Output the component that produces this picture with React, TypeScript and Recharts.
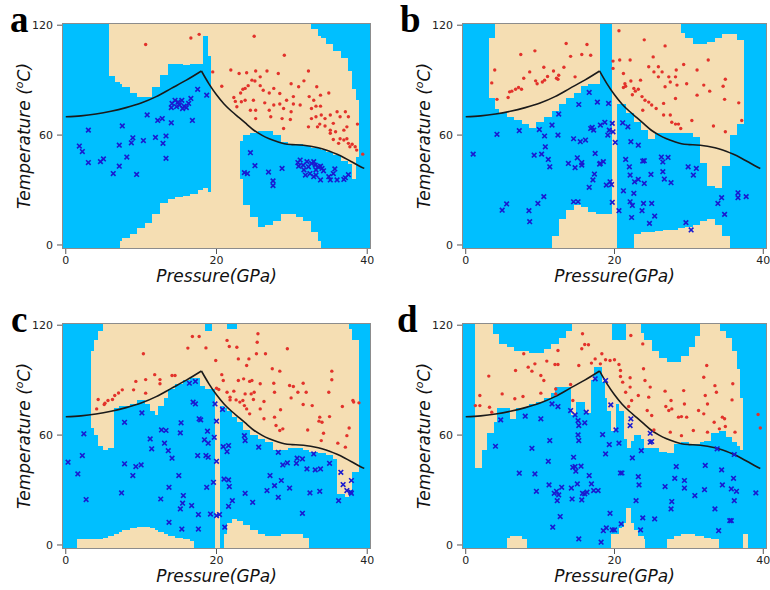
import React from "react";
import { ComposedChart, Area, Line, Scatter, XAxis, YAxis, CartesianGrid } from "recharts";

type Pt = [number, number];
type Band = [number, number];
type MapRow = [number, Band[]];

const X_TICKS = [0, 20, 40];
const Y_TICKS = [0, 60, 120];
const X_DOMAIN: [number, number] = [-0.5, 40.5];
const Y_DOMAIN: [number, number] = [-2.2, 121.2];

const BLUE = "#00BFFF";
const TAN = "#F5DEB3";
const RED = "#e2322b";
const NAVY = "#1a1ad0";
const SANS = "'DejaVu Sans', sans-serif";

// boundary curve, same in all four panels
const CURVE_RISE: Pt[] = [[0, 70], [2, 70.5], [4, 71.5], [6, 73], [8, 75], [10, 77.5], [12, 81], [14, 85.5], [16, 90], [18, 95]];
const CURVE_FALL: Pt[] = [[18, 95], [19, 88], [20, 82], [21, 77], [22, 73], [23, 69.5], [24, 66], [25, 62.5], [26, 60], [27, 58], [28, 56.5], [29, 55.3], [30, 54.8], [31, 54.6], [32, 54.2], [33, 53.5], [34, 52.5], [35, 51.2], [36, 49.5], [37, 47.5], [38, 45.3], [39, 43], [39.6, 41.8]];

// decision maps: [pressure where the column starts, tan temperature bands]
const MAP_A: MapRow[] = [
  [-0.5, []], [5.8, [[92, 120]]], [6.5, [[89, 120]]], [7.2, [[88, 120], [0, 2]]], [7.5, [[86, 120], [0, 4]]],
  [8.5, [[83, 120], [0, 6]]], [9.5, [[81, 120], [0, 9]]], [10.5, [[81, 120], [0, 12]]], [11.5, [[86, 120], [0, 17]]],
  [12.5, [[93, 120], [0, 23]]], [13.5, [[99, 120], [0, 25]]], [14.5, [[99, 120], [0, 26]]], [15.5, [[98, 120], [0, 27]]],
  [16.5, [[99, 120], [0, 28]]], [17.5, [[99, 120], [0, 30]]], [18.2, [[114, 120], [0, 31]]], [18.9, [[103, 120], [0, 29]]],
  [19.3, [[0, 120]]], [23.1, [[57, 120], [0, 36]]], [23.5, [[60, 120], [0, 22]]], [24.5, [[61, 120], [0, 15]]],
  [25.5, [[62, 120], [0, 10]]], [26.5, [[62, 120], [0, 11]]], [27.5, [[60, 120], [0, 13]]], [28.5, [[56, 120], [0, 17]]],
  [29.5, [[55, 120], [0, 17]]], [30.5, [[55, 120], [0, 15]]], [31.5, [[54, 120], [0, 13]]], [32.5, [[53, 118], [0, 7]]],
  [33.5, [[53, 114], [0, 2]]], [33.8, [[52, 113]]], [34.5, [[51, 110]]], [35.5, [[49, 106]]], [36.5, [[46, 102]]],
  [37.5, [[44, 95]]], [38.0, [[36, 85]]], [38.5, [[48, 79]]], [38.85, []],
];

const MAP_B: MapRow[] = [
  [-0.5, []], [3.1, [[80, 113]]], [4.0, [[74, 120]]], [4.5, [[72, 120]]], [5.5, [[70, 120]]], [6.5, [[68, 120]]],
  [7.5, [[66, 120]]], [8.5, [[64, 120]]], [9.5, [[67, 120]]], [10.5, [[70, 120]]], [11.6, [[73, 120], [0, 5]]],
  [12.5, [[77, 120], [0, 14]]], [13.5, [[80, 120], [0, 19]]], [14.5, [[83, 120], [0, 22]]], [15.5, [[87, 120], [0, 21]]],
  [16.5, [[88, 120], [0, 18]]], [17.5, [[88, 120], [0, 17]]], [18.1, [[0, 17]]], [19.6, [[0, 120]]], [20.4, [[77, 120]]],
  [21.5, [[72, 120]]], [22.6, [[67, 120], [0, 6]]], [23.5, [[63, 120], [0, 7]]], [24.5, [[58, 120], [0, 7]]],
  [25.5, [[61, 120], [0, 7.5]]], [26.5, [[61, 120], [0, 8]]], [27.5, [[61, 120], [0, 8]]], [28.5, [[61, 120], [0, 9]]],
  [29.0, [[61, 116], [0, 9]]], [29.5, [[61, 113], [0, 10]]], [30.5, [[59, 110], [0, 11]]], [31.5, [[45, 110], [0, 13]]],
  [32.5, [[32, 111], [0, 14]]], [33.5, [[31, 113], [0, 11]]], [34.5, [[43, 115], [0, 5]]], [35.5, [[60, 115]]],
  [36.5, [[66, 112]]], [37.4, []],
];

const MAP_C: MapRow[] = [
  [-0.5, []], [1.5, [[0, 3]]], [3.3, [[64, 106], [0, 3]]], [3.7, [[60, 112], [0, 3]]], [4.3, [[54, 117], [0, 3]]],
  [5.0, [[52, 120], [0, 4]]], [5.6, [[53, 120], [0, 5]]], [6.4, [[75, 120], [0, 6]]], [7.0, [[76, 120], [0, 7]]],
  [7.5, [[76, 120], [0, 8]]], [8.5, [[77, 120], [0, 9.5]]], [9.5, [[79, 120], [0, 10]]], [10.5, [[77, 120], [0, 10]]],
  [11.2, [[73, 120], [0, 9]]], [11.8, [[71, 120], [0, 8]]], [12.3, [[76, 120], [0, 7]]], [13.0, [[80, 120], [0, 6]]],
  [13.6, [[85, 120], [0, 5]]], [14.5, [[88, 120], [0, 4]]], [15.5, [[90, 120], [0, 3]]], [16.5, [[91, 120], [0, 2]]],
  [17.0, [[91, 120]]], [17.8, [[87, 120]]], [18.5, [[85, 117]]], [19.4, [[85, 120]]], [19.8, [[0, 120]]],
  [20.5, [[76, 120]]], [21.0, [[75, 120], [0, 6]]], [21.4, [[73, 118], [0, 12]]], [22.0, [[70, 118], [0, 14]]],
  [22.7, [[67, 120], [0, 13]]], [23.5, [[63, 120], [0, 11]]], [24.5, [[60, 120], [0, 8]]], [25.5, [[58, 120], [0, 6]]],
  [26.5, [[56, 120], [0, 5]]], [27.5, [[52, 120], [0, 5]]], [28.5, [[52, 120], [0, 6]]], [29.5, [[53, 120], [0, 6]]],
  [30.5, [[53, 120], [0, 6]]], [31.5, [[52, 120], [0, 4]]], [32.3, [[51, 120]]], [33.5, [[50, 120]]], [34.5, [[49, 120]]],
  [35.5, [[47, 120]]], [36.0, [[28, 120]]], [37.0, [[26, 120]]], [37.6, [[30, 118]]], [38.0, [[40, 112]]], [38.9, []],
];

const MAP_D: MapRow[] = [
  [-0.5, []], [1.3, [[42, 120]]], [2.2, [[52, 120]]], [2.9, [[61, 120]]], [3.6, [[61, 115]]], [3.8, [[67, 115]]],
  [4.2, [[75, 115]]], [4.5, [[75, 110]]], [5.5, [[75, 108], [0, 4]]], [6.0, [[69, 108], [0, 5]]], [6.5, [[69, 106], [0, 5]]],
  [6.7, [[75, 106], [0, 5]]], [7.6, [[75, 106], [0, 3]]], [8.2, [[76, 106]]], [8.5, [[77, 105]]], [9.5, [[78, 105]]],
  [10.5, [[80, 107]]], [11.5, [[83, 110]]], [12.0, [[86, 110]]], [12.5, [[86, 113]]], [13.5, [[86, 117]]],
  [14.1, [[71, 117]]], [14.3, [[71, 120]]], [14.8, [[78, 120]]], [16.1, [[72, 120]]], [16.8, [[90, 120]]],
  [17.2, [[97, 120]]], [18.3, [[89, 120]]], [18.7, [[80, 120]]], [19.0, [[73, 120]]], [19.5, [[62, 120], [0, 6]]],
  [19.7, [[62, 112], [0, 6]]], [20.2, [[77, 112], [0, 6]]], [20.6, [[73, 112], [0, 9]]], [21.0, [[73, 112], [0, 10]]],
  [21.3, [[58, 112], [0, 12]]], [21.5, [[58, 120], [0, 20]]], [21.7, [[53, 120], [0, 20]]], [22.2, [[57, 120], [0, 12]]],
  [22.6, [[60, 120], [0, 8]]], [23.2, [[60, 120], [0, 5]]], [23.5, [[58, 116], [0, 5]]], [24.0, [[53, 112], [0, 3]]],
  [24.1, [[53, 112]]], [25.0, [[53, 106]]], [26.0, [[51, 102]]], [27.0, [[50, 100], [0, 3]]], [28.0, [[55, 100], [0, 5]]],
  [29.0, [[56, 103], [0, 6]]], [30.0, [[55, 108], [0, 6]]], [30.8, [[55, 114], [0, 5]]], [31.5, [[56, 120], [0, 5]]],
  [32.0, [[57, 120], [0, 4]]], [33.0, [[61, 120], [0, 3]]], [34.0, [[62, 120]]], [34.2, [[62, 117]]], [35.0, [[59, 113]]],
  [35.8, [[56, 106]]], [36.4, [[54, 96]]], [36.9, [[52, 80]]], [37.3, [[0, 6]]], [38.0, []],
];

// training points [pressure, temperature]
const RED_A: Pt[] = [[10.6, 109.5], [16.6, 113], [17.7, 115], [25, 114], [29, 103.6], [19.5, 94.5], [21.9, 95.5], [20.7, 86.7], [23, 93.6], [24, 94], [25.2, 95], [26.7, 95], [28.2, 93.6], [29.9, 88], [31.6, 89.6], [32.2, 95], [22.3, 80.5], [22.5, 78.4], [23.2, 83], [23.5, 85], [23.8, 85.5], [24.2, 87], [24.7, 90], [25.1, 89.5], [25.8, 87], [26.2, 84.5], [27, 83], [27.6, 85.5], [28.4, 77], [28.9, 74.5], [29.3, 79], [30.2, 77], [29.9, 72.7], [22.7, 75.5], [23.8, 79], [24.9, 79], [25.2, 73.6], [26.4, 77.6], [27.6, 76.4], [25.2, 69], [27.2, 70], [28.7, 69], [28.9, 63.6], [29.8, 68.5], [31.1, 76.4], [32.3, 81], [33.8, 81.8], [34.9, 83], [32.6, 74.5], [33.2, 75.8], [33.8, 75.8], [32.6, 69], [33.2, 70], [33.9, 71], [32.2, 64.5], [33.4, 64.5], [33.7, 66], [34.4, 69], [35.1, 71], [36, 72.7], [37.1, 72.7], [37.5, 70], [36.4, 70], [35.5, 66.4], [34.4, 65], [35.1, 62.7], [35.1, 61], [35.5, 57.6], [36.4, 58], [36.9, 57.3], [37.3, 58], [37.5, 55.5], [38, 55], [38.4, 53.6], [38.6, 51.8], [38.7, 66], [39.4, 49.6], [36.9, 62.7], [37.3, 64.5], [24.5, 73.6], [23.3, 78.2], [27, 73.6], [28.4, 82.7], [30.9, 86.4], [30.2, 81], [33.3, 86.4], [25.8, 91.8], [32.9, 79], [35.8, 61.8], [36.2, 55.5], [37.7, 53.6]];
const BLUE_A: Pt[] = [[1.8, 54], [2.2, 51], [3, 62.7], [3, 45], [4.6, 45.5], [5, 47], [6.3, 39], [7.1, 43], [7.1, 54.5], [7.5, 65], [8.1, 48], [8.7, 55.8], [8.9, 58.5], [9.4, 38.5], [10.3, 57], [10.8, 71], [11.9, 58.7], [12.2, 68], [12.8, 69], [12.9, 55.5], [13.3, 59.5], [13.3, 47.3], [14, 66.7], [14, 75], [14.1, 77.3], [14.5, 79], [14.9, 78], [15.4, 79], [15.1, 76.4], [14.7, 75.5], [15.7, 75.8], [16, 75], [16.3, 77.3], [16.6, 80], [15.5, 74.5], [16.8, 68], [17.5, 85], [18.7, 81.8], [24.5, 50.4], [25.1, 43.3], [23.7, 39.5], [24.1, 39], [26.9, 39.8], [27.5, 35], [27.5, 32.4], [28.7, 41.8], [30.8, 45], [31.1, 46.4], [31.5, 43.6], [31.6, 41], [32, 45.5], [32.2, 42.7], [32.4, 39], [32.6, 44.5], [32.9, 45.5], [33.1, 43.6], [33.2, 41], [33.5, 42.7], [32.9, 37.3], [33.8, 35.5], [34, 41.8], [34.2, 40.5], [34.9, 37.3], [35.1, 35.5], [35.5, 39], [35.7, 41.5], [36, 35.5], [36.9, 35.8], [37.1, 36.7], [37.5, 38.4], [31.8, 38.2], [30.9, 43], [33.2, 38.2], [33.8, 43]];

const RED_B: Pt[] = [[3.5, 88.5], [3.9, 95.5], [4.2, 79.5], [5.7, 80.5], [5.9, 83.6], [6.2, 84], [6.7, 85], [7.1, 86], [7.5, 85], [7.4, 104], [7.8, 91], [8.6, 94.5], [9.3, 106], [9.4, 89.6], [9.6, 88], [10.3, 89], [10.5, 97], [10.6, 90], [11, 92], [11.8, 95], [12.2, 91], [12.4, 90.5], [12.5, 92.7], [13.2, 97], [13.5, 110], [14.1, 103], [14.7, 91.8], [15.6, 104], [16.3, 109.5], [16.8, 103.6], [20.6, 117], [19.8, 100.4], [20.7, 101], [22.1, 101], [19.8, 96.4], [21.2, 93.6], [21.4, 88], [21.5, 86.7], [21.2, 86], [22.2, 89.5], [22.6, 85.5], [22.8, 84], [23.5, 90], [24, 112], [24.6, 97.3], [25.2, 102.7], [25.9, 97.3], [26.8, 108.7], [26.4, 94.5], [27.3, 91.8], [27.5, 89], [28.2, 91.8], [28.3, 95.5], [29.3, 98.5], [28.2, 80], [28.4, 87.3], [26.8, 86.4], [25.9, 91.8], [23.7, 81], [24.1, 79], [24.6, 78], [25, 76.4], [25.6, 74.5], [26.6, 71], [27.5, 71], [26.6, 77.3], [27.7, 67], [28.2, 66], [28.6, 66], [28.9, 63.6], [30.4, 68], [31.1, 81.8], [32.6, 101], [32.8, 84], [31.1, 95.5], [34.9, 90.5], [34.8, 79.5], [36.7, 77.6], [37.1, 68], [34.6, 86.7], [34.9, 61.8], [33.3, 65], [23.2, 85], [22.4, 82], [23.8, 73.6], [25.3, 94.5], [29.7, 88], [32, 87.3]];
const BLUE_B: Pt[] = [[1, 49.6], [4.2, 60.4], [4.9, 19], [5.5, 22.4], [7.2, 62.4], [8.5, 18.7], [8.6, 12.7], [9.2, 49], [9.7, 22.7], [9.9, 63], [10.2, 49.6], [10.5, 26.4], [10.6, 59.5], [10.7, 53.6], [11.1, 46.7], [11.3, 42.7], [11.6, 65.5], [12.4, 60], [12.5, 71.5], [13.8, 44.5], [14.5, 58], [14.7, 42.2], [14.5, 23.6], [15.1, 23.6], [15, 47.6], [15.4, 56.4], [15.6, 45], [15.6, 43.6], [16.1, 57.3], [15.2, 76.7], [16.6, 83.3], [16.6, 31.5], [16.8, 63.6], [17, 64.2], [17.1, 35.5], [17.3, 38.7], [17.4, 50], [17.2, 62.7], [17.7, 78], [18, 44.2], [18.1, 44.5], [18.5, 45.5], [18.1, 65.5], [18.7, 67], [18.9, 32.7], [19.1, 60], [19.2, 77.3], [19.3, 62.7], [19.4, 34.5], [19.6, 33], [19.7, 66.4], [19.7, 23.3], [19.8, 61.8], [20.1, 56], [20.6, 18.7], [21.1, 66.7], [21.2, 29.6], [21.5, 46.7], [21.8, 64.5], [22, 42.7], [22.1, 38.2], [22.1, 23.6], [22.2, 56.4], [22.3, 15], [22.4, 21.6], [22.6, 28.2], [22.7, 34.5], [23.2, 54.5], [23.2, 35.8], [23.7, 18.7], [23.8, 45.8], [24, 46], [24, 33.6], [23.9, 22.7], [24.7, 11.8], [24.9, 38.5], [25, 22.7], [25.4, 15.8], [26.3, 48], [26.5, 45.3], [26.5, 40], [26.7, 36], [27.2, 47.8], [27.6, 34], [29.6, 12.2], [29.9, 42.7], [30.3, 8.2], [30.6, 38.2], [31, 41.8], [33.9, 22.7], [34.4, 25.8], [34.8, 16.7], [36.6, 28.5], [36.6, 25.8], [37.7, 26.4]];

const RED_C: Pt[] = [[4.1, 74.3], [4.3, 79.4], [5.1, 76.7], [5.2, 77.4], [5.6, 78.9], [6.2, 79.4], [6.5, 81.6], [7, 83], [7.5, 84.7], [9, 84.7], [9.3, 89.3], [10.3, 104.4], [10.6, 90.3], [10.6, 82.9], [11.8, 93], [12.5, 90.3], [12.5, 88], [14.1, 92.5], [14.5, 92.5], [16.2, 107.5], [16.8, 113.8], [17.7, 113.8], [18.6, 107.6], [19.9, 100.7], [20.7, 93], [20.3, 84.9], [20, 85.6], [21.4, 111.7], [21.7, 108.4], [20.9, 89.8], [21.4, 83.4], [21.8, 80.7], [21.8, 79.2], [22.3, 84], [22.6, 79.2], [22.7, 108], [22.9, 101.6], [22.9, 89.8], [23.1, 78], [23.5, 78.9], [23.6, 90.7], [23.8, 82.5], [23.7, 76.1], [24, 98], [24.3, 101.6], [24.4, 89.3], [24, 74.3], [24.4, 71.6], [24.6, 82.5], [24.7, 89.8], [24.9, 79.4], [25, 83.4], [25.3, 104.4], [25.4, 110.7], [25.5, 115.3], [26.5, 104.4], [25.8, 88], [25.8, 74.3], [26.3, 78.3], [26.3, 68.9], [27.4, 96.2], [27.6, 88.3], [27.7, 83.4], [27.7, 69.8], [27.9, 65.2], [28.4, 94.9], [28.5, 73.8], [28.4, 62.5], [28.8, 63.4], [29.4, 107.1], [29.7, 87.1], [29.9, 80.3], [30.2, 86.5], [30.8, 83.4], [31.5, 88.3], [31.5, 76.7], [31.9, 83.4], [32.1, 62.8], [32.7, 76.1], [33.6, 67.6], [33.7, 69.8], [33.9, 57], [34, 67], [34.2, 61], [34.9, 83.4], [35, 70.1], [35.3, 94.9], [35.3, 90.2], [36.1, 55.6], [36.7, 75.6], [37.3, 59.7], [37.6, 63.9], [38.1, 78.9], [38.2, 78], [38.9, 77.6], [37.1, 53.4]];
const BLUE_C: Pt[] = [[0.3, 45.2], [1.6, 38.8], [2.2, 48.8], [2.4, 60.7], [2.7, 24.8], [7.4, 28.4], [7.8, 44.3], [7.8, 67], [8.9, 37.9], [9.3, 42.8], [10, 43.7], [10.1, 72.1], [11.2, 57.9], [11.4, 52.5], [12.6, 25.1], [12.7, 62.8], [13.3, 62.5], [13.1, 55.6], [13.6, 51.5], [13.7, 31.5], [13.7, 12.4], [14.1, 47.4], [15, 37.9], [15.2, 61.2], [15.3, 66.7], [15.2, 19.7], [15.4, 8.7], [15.5, 22.8], [15.6, 27], [16.4, 88.3], [17.2, 89.3], [16.9, 78], [17.2, 77], [16.7, 21.5], [17.5, 48.8], [17.6, 16.6], [17.6, 8.7], [17.7, 68.9], [17.9, 68.3], [18.4, 57.4], [18.6, 48.8], [18.8, 62.1], [18.9, 55.6], [18.9, 47.9], [18.7, 31.5], [19.2, 16.9], [19.6, 34.2], [19.7, 58.8], [19.8, 77], [20, 67.6], [20, 45.7], [20, 16], [20.4, 16.6], [20.8, 74], [20.9, 53.7], [21, 36], [21.1, 9.7], [21.4, 51], [21.6, 54.3], [21.6, 35.5], [21.7, 31.9], [21.6, 21.1], [22.1, 24.2], [23.7, 59.7], [23.8, 57], [23.8, 28.2], [24.8, 23.3], [25.6, 53.4], [26.7, 29.7], [27.1, 37.9], [27.7, 32.4], [28.2, 50.6], [28.2, 26], [28.6, 35.2], [28.8, 43.7], [29.4, 44.8], [29.7, 31.1], [30.6, 44.6], [30.7, 47.4], [31.4, 47], [31.4, 17.3], [32, 41.5], [32.4, 28.4], [32.9, 49.7], [33.1, 41], [33.7, 29.3], [33.8, 41.5], [35, 44.6], [36.2, 24.2], [36.5, 39.7], [36.8, 33], [37.3, 29.7], [37.9, 28.2], [37.9, 35.2], [37.8, 28.8]];

const RED_D: Pt[] = [[1.3, 76.1], [1.9, 76.1], [1.9, 81.6], [3.2, 75.2], [3.5, 72.5], [3.1, 92.2], [4.9, 82.5], [6.6, 79.8], [6.7, 95.3], [7.7, 81.1], [7.8, 104.4], [8.4, 97.1], [8.9, 94.9], [9.3, 98.9], [10.1, 92.5], [10.1, 82.9], [10.5, 89.8], [10.9, 100.4], [12.1, 82.5], [12, 98.5], [12.4, 106.2], [12.4, 98.5], [12.1, 85.2], [14.4, 78.9], [14.1, 87.6], [15.2, 98], [15.6, 107.1], [15.7, 115.3], [16, 109.5], [16.5, 109.3], [16.9, 99.3], [17.4, 101.6], [18.1, 98.9], [18.3, 104.4], [18.8, 101.1], [19.4, 100.7], [20, 101.1], [20.6, 98.5], [20.8, 95.3], [20.8, 92], [21.1, 88.9], [21.5, 83.4], [22.1, 86.2], [22.3, 78.9], [22.2, 114.4], [23.8, 109.8], [23.9, 96.2], [23.2, 81.6], [24.6, 80.7], [24.8, 86.2], [25, 70.7], [25.3, 62.8], [26.8, 84], [26.9, 75.6], [27.3, 73.4], [27.6, 78.9], [28.6, 69.8], [29, 59.7], [29.3, 84.3], [29.4, 77], [29.7, 69.8], [29, 70.1], [27.5, 61.6], [30.6, 62.5], [32, 91.6], [32.4, 98], [32.2, 81.6], [32.5, 77], [32.5, 61.6], [33.4, 67], [33.5, 87], [33.7, 83.4], [34.1, 63.4], [34.5, 69.8], [34.8, 68.9], [34.9, 64.7], [35.8, 79.2], [36.2, 61.6], [35.9, 88], [39.3, 71.2], [39.6, 63.9], [24.1, 89.8], [22.1, 91.3], [21.9, 75.6], [24.4, 73.4], [27.7, 74.3], [31.3, 73.4], [32, 71.6]];
const BLUE_D: Pt[] = [[4, 53.9], [4.7, 68.3], [7.2, 39.2], [8, 70.3], [8.9, 52.8], [9.3, 38.8], [9.5, 29.3], [10.1, 68.9], [11.1, 45.7], [11.2, 32.8], [11.3, 57], [11.6, 77], [11.7, 9.7], [11.9, 28.2], [12.2, 29.3], [12.3, 24.2], [12.4, 75.6], [12.5, 27.3], [12.7, 15.5], [12.9, 31.5], [14.1, 73.4], [14.2, 31.1], [14.3, 25.1], [14.4, 42.4], [14.5, 47.9], [14.7, 42.8], [14.8, 40.3], [14.7, 71], [15, 33.3], [15.1, 67.9], [15.2, 65.2], [15.1, 60.1], [15.2, 57], [15.2, 3.3], [15.5, 43], [15.6, 24.6], [15.7, 28.2], [16, 27.9], [16, 66.7], [16.2, 72.5], [16.3, 28.8], [16.6, 37.9], [16.9, 33.3], [17.2, 29.7], [17.4, 90.7], [17.8, 29.7], [18.2, 1.5], [18.5, 7.8], [18.4, 60.3], [18.8, 89.8], [18.8, 49.7], [18.9, 9.3], [19.3, 54.8], [19.4, 17.3], [19.5, 76.5], [19.7, 8.2], [20, 8.2], [20.2, 62.8], [20.6, 55.6], [20.8, 39.3], [20.9, 11.5], [21, 39.3], [22.1, 65.2], [22.2, 68.9], [22.4, 47.5], [22.9, 24.2], [23.2, 37.3], [23.3, 32.8], [23.5, 8.2], [23.6, 51.5], [23.8, 14.8], [24.8, 61], [24.8, 56.1], [25, 56.5], [25.4, 14.2], [26.8, 31.9], [27.6, 19.7], [27.7, 23.7], [28.1, 36.4], [28.3, 42.8], [29.4, 35.2], [29.4, 31.1], [30.8, 27], [32.1, 30.2], [32.2, 43.4], [33.5, 19.7], [33.8, 52.5], [34, 7.8], [34.4, 41], [34.5, 32.8], [35.7, 30.6], [35.7, 13.3], [35.5, 13.3], [36, 36.4], [36.1, 24.2], [36.1, 49.4], [36.4, 29.3], [39, 28.4]];

const toPts = (pts: Pt[]) => pts.map(([p, t]) => ({ p, t }));

// one record per column start, with up to two tan bands (missing band collapses to nothing)
function buildBands(rows: MapRow[]) {
  const out = rows.map(([p, bands]) => {
    const rec: any = { p };
    for (let k = 0; k < 2; k++) {
      const b = bands[k];
      rec["b" + k] = b
        ? [b[0] <= 0 ? Y_DOMAIN[0] : b[0], b[1] >= 120 ? Y_DOMAIN[1] : b[1]]
        : [Y_DOMAIN[0], Y_DOMAIN[0]];
    }
    return rec;
  });
  out.push({ ...out[out.length - 1], p: X_DOMAIN[1] });
  return out;
}

const Dot = (props: any) => <circle cx={props.cx} cy={props.cy} r={1.7} fill={RED} />;
const Cross = (props: any) => {
  const { cx, cy } = props;
  const s = 2.3;
  return (
    <path
      d={`M${cx - s},${cy - s}L${cx + s},${cy + s}M${cx - s},${cy + s}L${cx + s},${cy - s}`}
      stroke={NAVY}
      strokeWidth={1.6}
    />
  );
};

const W = 385;
const H = 295;
const TOP = 23;
const PLOT_H = 226;

interface PanelProps {
  left: number;
  top: number;
  yWidth: number;
  right: number;
  letter: string;
  letterX: number;
  map: MapRow[];
  red: Pt[];
  blue: Pt[];
}

function Panel({ left, top, yWidth, right, letter, letterX, map, red, blue }: PanelProps) {
  const bands = buildBands(map);
  const plotW = W - yWidth - right;
  const tick = { fontSize: 11, fill: "#222", fontFamily: SANS };
  const labelX = yWidth - 32;
  const labelY = TOP + PLOT_H / 2;
  return (
    <div style={{ position: "absolute", left, top, width: W, height: H }}>
      <ComposedChart width={W} height={H} margin={{ top: TOP, right, bottom: 0, left: 0 }}>
        <CartesianGrid fill={BLUE} fillOpacity={1} horizontal={false} vertical={false} stroke="none" />
        <XAxis
          type="number"
          dataKey="p"
          domain={X_DOMAIN}
          allowDataOverflow
          ticks={X_TICKS}
          interval={0}
          height={H - TOP - PLOT_H}
          axisLine={false}
          tickSize={5}
          tickMargin={2}
          tick={tick}
          tickLine={{ stroke: "#555" }}
        />
        <YAxis
          type="number"
          domain={Y_DOMAIN}
          allowDataOverflow
          ticks={Y_TICKS}
          interval={0}
          width={yWidth}
          axisLine={false}
          tickSize={5}
          tickMargin={4}
          tick={tick}
          tickLine={{ stroke: "#555" }}
        />
        <Area data={bands} dataKey="b0" type="stepAfter" fill={TAN} fillOpacity={1} stroke="none" shapeRendering="crispEdges" dot={false} activeDot={false} isAnimationActive={false} />
        <Area data={bands} dataKey="b1" type="stepAfter" fill={TAN} fillOpacity={1} stroke="none" shapeRendering="crispEdges" dot={false} activeDot={false} isAnimationActive={false} />
        <Line data={toPts(CURVE_RISE)} dataKey="t" type="monotone" stroke="#1a1a1a" strokeWidth={1.6} dot={false} activeDot={false} isAnimationActive={false} />
        <Line data={toPts(CURVE_FALL)} dataKey="t" type="monotone" stroke="#1a1a1a" strokeWidth={1.6} dot={false} activeDot={false} isAnimationActive={false} />
        <Scatter data={toPts(red)} dataKey="t" shape={Dot} isAnimationActive={false} />
        <Scatter data={toPts(blue)} dataKey="t" shape={Cross} isAnimationActive={false} />
      </ComposedChart>
      <svg width={W} height={H} style={{ position: "absolute", left: 0, top: 0, pointerEvents: "none" }}>
        <rect x={yWidth + 0.5} y={TOP + 0.5} width={plotW - 1} height={PLOT_H - 1} fill="none" stroke="#8c8c8c" />
        <text x={letterX} y={32} fontFamily="'Liberation Serif', serif" fontWeight="bold" fontSize={37} fill="#000">
          {letter}
        </text>
        <text x={yWidth + plotW / 2} y={TOP + PLOT_H + 33} textAnchor="middle" fontFamily={SANS} fontStyle="italic" fontSize={17} fill="#111">
          Pressure(GPa)
        </text>
        <text
          x={labelX}
          y={labelY}
          transform={`rotate(-90, ${labelX}, ${labelY})`}
          textAnchor="middle"
          fontFamily={SANS}
          fontStyle="italic"
          fontSize={17}
          fill="#111"
        >
          Temperature (<tspan fontSize={11} dy={-7}>o</tspan>
          <tspan dy={7}>C)</tspan>
        </text>
      </svg>
    </div>
  );
}

export default function App() {
  return (
    <div style={{ position: "absolute", left: 0, top: 0, width: 770, height: 590, background: "#fff" }}>
      <Panel left={0} top={0} yWidth={62} right={14} letter="a" letterX={10} map={MAP_A} red={RED_A} blue={BLUE_A} />
      <Panel left={385} top={0} yWidth={77} right={3} letter="b" letterX={15} map={MAP_B} red={RED_B} blue={BLUE_B} />
      <Panel left={0} top={300} yWidth={62} right={14} letter="c" letterX={11} map={MAP_C} red={RED_C} blue={BLUE_C} />
      <Panel left={385} top={300} yWidth={77} right={3} letter="d" letterX={12} map={MAP_D} red={RED_D} blue={BLUE_D} />
    </div>
  );
}
